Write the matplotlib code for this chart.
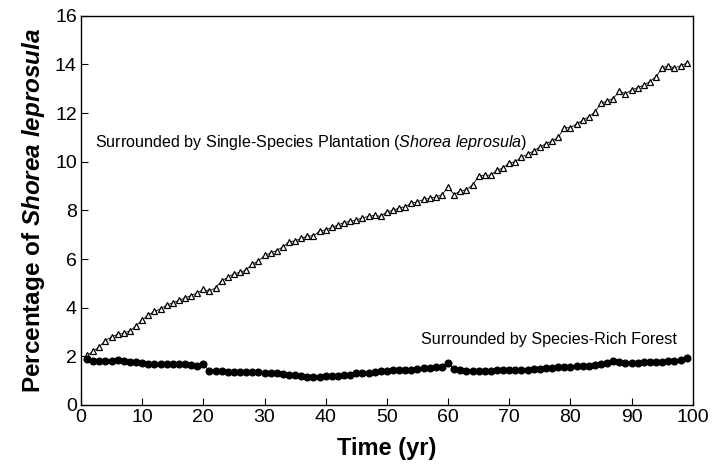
import numpy as np
import matplotlib
matplotlib.use("Agg")
from matplotlib import pyplot as plt

plt.rcParams['font.family'] = ['Liberation Sans', 'DejaVu Sans']
plt.rcParams['mathtext.fontset'] = 'custom'
plt.rcParams['mathtext.rm'] = 'Liberation Sans'
plt.rcParams['mathtext.it'] = 'Liberation Sans:italic'
plt.rcParams['mathtext.bf'] = 'Liberation Sans:bold'
plt.rcParams['mathtext.bfit'] = 'Liberation Sans:italic:bold'

years = list(range(1, 100))

plantation = [2.05, 2.2, 2.4, 2.65, 2.8, 2.9, 2.95, 3.05, 3.25, 3.5,
              3.7, 3.85, 3.95, 4.1, 4.2, 4.3, 4.4, 4.5, 4.6, 4.75,
              4.68, 4.82, 5.1, 5.25, 5.4, 5.45, 5.55, 5.8, 5.9, 6.15,
              6.25, 6.35, 6.5, 6.7, 6.75, 6.85, 6.95, 6.95, 7.15, 7.2,
              7.3, 7.4, 7.5, 7.55, 7.6, 7.7, 7.75, 7.8, 7.75, 7.95,
              8.0, 8.1, 8.15, 8.3, 8.35, 8.45, 8.5, 8.55, 8.65, 8.95,
              8.65, 8.8, 8.85, 9.05, 9.4, 9.45, 9.45, 9.65, 9.75, 9.95,
              10.0, 10.2, 10.3, 10.45, 10.6, 10.75, 10.85, 11.0, 11.4, 11.4,
              11.55, 11.7, 11.85, 12.05, 12.4, 12.5, 12.6, 12.9, 12.8, 12.95,
              13.05, 13.15, 13.3, 13.5, 13.85, 13.95, 13.85, 13.95, 14.05]

forest = [1.88, 1.82, 1.82, 1.8, 1.8, 1.83, 1.8, 1.75, 1.75, 1.72,
          1.7, 1.7, 1.68, 1.68, 1.7, 1.7, 1.68, 1.65, 1.62, 1.68,
          1.38, 1.38, 1.38, 1.36, 1.36, 1.35, 1.35, 1.35, 1.35, 1.33,
          1.33, 1.3, 1.27, 1.25, 1.22, 1.2, 1.15, 1.17, 1.17, 1.18,
          1.2, 1.2, 1.22, 1.25, 1.3, 1.32, 1.32, 1.35, 1.38, 1.4,
          1.42, 1.42, 1.42, 1.45, 1.48, 1.5, 1.52, 1.55, 1.58, 1.72,
          1.47, 1.42, 1.4, 1.4, 1.4, 1.4, 1.4, 1.42, 1.42, 1.42,
          1.45, 1.45, 1.45, 1.48, 1.48, 1.5, 1.52, 1.55, 1.55, 1.58,
          1.6, 1.62, 1.62, 1.65, 1.7, 1.72, 1.8, 1.76, 1.72, 1.72,
          1.74, 1.76, 1.76, 1.77, 1.78, 1.8, 1.82, 1.84, 1.92]

xticks = list(range(0, 101, 10))
yticks = list(range(0, 17, 2))

fig = plt.figure(figsize=(7.13, 4.66), dpi=100)
ax = fig.add_axes([0.1136, 0.131, 0.858, 0.835])

ax.plot(years, plantation, color='black', lw=0.6, marker='^', ms=4.6,
        mfc='white', mec='black', mew=0.9)
ax.plot(years, forest, color='black', lw=0.6, marker='o', ms=4.8,
        mfc='black', mec='black')

ax.set_xlim(0, 100)
ax.set_ylim(0, 16)
ax.set_xticks(xticks)
ax.set_yticks(yticks)
ax.tick_params(direction='in', length=5, width=0.8, labelsize=14, pad=3)
for s in ax.spines.values():
    s.set_linewidth(1.0)

ax.text(2.3, 10.8, r'Surrounded by Single-Species Plantation ($\it{Shorea\ leprosula}$)',
        fontsize=11.6, va='center', ha='left')
ax.text(55.6, 2.68, 'Surrounded by Species-Rich Forest',
        fontsize=11.6, va='center', ha='left')

ax.set_xlabel('Time (yr)', fontsize=17, fontweight='bold', labelpad=8)
ax.set_ylabel(r'Percentage of $\bfit{Shorea\ leprosula}$', fontsize=17.5,
              fontweight='bold', labelpad=6)

fig.savefig('out.png', dpi=100)
